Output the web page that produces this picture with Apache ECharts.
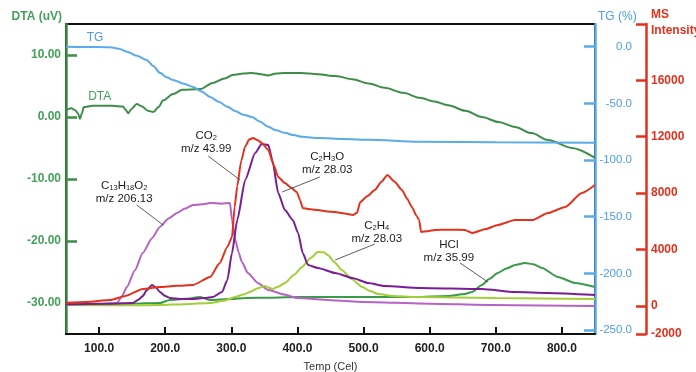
<!DOCTYPE html>
<html>
<head>
<meta charset="utf-8">
<title>DTA / TG / MS</title>
<script src="https://cdn.jsdelivr.net/npm/echarts@6.0.0/dist/echarts.min.js"></script>
<style>
    html, body { margin: 0; padding: 0; background: #fff; }
    #chart { width: 696px; height: 372px; }
</style>
</head>
<body>
<div id="chart"></div>
<script>
// tick values on each axis
const xTicks = [100, 200, 300, 400, 500, 600, 700, 800];
const dtaTicks = [-30, -20, -10, 0, 10];
const tgTicks = [0, -50, -100, -150, -200, -250];
const msTicks = [-2000, 0, 4000, 8000, 12000, 16000];
const msTickMarks = [-2000, 0, 4000, 8000, 12000, 16000, 20000];

// DTA (uV)
const dtaTemp = [50, 58, 64, 68, 71, 74, 77, 90, 120, 136, 140, 144, 149, 157, 165, 174, 182, 190, 197, 212, 226, 253, 272, 290, 303, 318, 331, 345, 355, 368, 381, 405, 431, 458, 483, 508, 532, 560, 585, 607, 628, 654, 679, 704, 729, 754, 779, 815, 850];
const dtaVal = [1.1, 1.4, 1.1, 0.6, -0.3, 0.6, 1.6, 1.8, 1.8, 1.7, 1.2, 0.6, 1.3, 2.1, 1.7, 1.0, 0.8, 1.6, 2.7, 3.7, 4.4, 4.5, 5.5, 6.2, 6.8, 7.0, 7.1, 6.9, 6.7, 7.0, 7.1, 7.1, 6.9, 6.6, 6.1, 5.4, 4.7, 3.9, 3.1, 2.5, 1.9, 1.0, 0.0, -0.8, -1.6, -2.6, -3.7, -5.0, -6.6];

// TG (%)
const tgTemp = [50, 80, 117, 130, 142, 157, 172, 182, 192, 202, 212, 227, 242, 255, 268, 281, 294, 306, 318, 331, 343, 356, 368, 381, 394, 407, 432, 457, 507, 585, 700, 850];
const tgVal = [0, -0.2, -0.5, -1.8, -4.4, -8, -11.7, -17, -23.1, -27, -29.3, -32.5, -35.5, -39.5, -44.3, -48.7, -53, -56.7, -60, -62, -66, -70.7, -73.8, -76, -78, -79.5, -80.6, -81.2, -82.1, -83.8, -84.4, -84.8];

// MS intensity, CO2 m/z 43.99 (red)
const co2Temp = [50, 80, 117, 140, 166, 192, 217, 242, 268, 282, 294, 301, 305, 309, 315, 321, 327, 333, 340, 346, 356, 364, 371, 381, 390, 399, 404, 408, 420, 431, 445, 457, 471, 484, 490, 495, 506, 517, 527, 536, 547, 558, 566, 573, 580, 584, 587, 597, 608, 630, 653, 664, 685, 703, 729, 755, 779, 805, 830, 850];
const co2Val = [220, 270, 413, 700, 1194, 1336, 1420, 1478, 2045, 3000, 4174, 4884, 7000, 8500, 10300, 11300, 11800, 11910, 11750, 11555, 11058, 10000, 9142, 8716, 8400, 8078, 7500, 6942, 6850, 6800, 6700, 6658, 6550, 6445, 6600, 7368, 7800, 8220, 8800, 9284, 8800, 8220, 7600, 7013, 6400, 6090, 5240, 5300, 5381, 5400, 5381, 5170, 5450, 5736, 6090, 6090, 6587, 7013, 8007, 8575];

// C2H3O m/z 28.03 (dark purple)
const c2h3oTemp = [50, 120, 151, 160, 166, 172, 180, 186, 192, 200, 207, 225, 242, 260, 272, 286, 294, 301, 309, 321, 336, 346, 356, 362, 371, 381, 393, 401, 408, 416, 431, 457, 483, 507, 532, 585, 679, 729, 779, 850];
const c2h3oVal = [100, 150, 200, 450, 697, 1100, 1478, 1300, 980, 700, 555, 484, 484, 550, 626, 980, 1832, 3749, 6090, 8929, 10846, 11484, 11413, 10349, 8007, 6800, 6090, 5170, 3749, 2897, 2684, 2329, 1974, 1620, 1407, 1265, 1194, 980, 910, 768];

// C13H18O2 m/z 206.13 (light purple)
const c13Temp = [50, 100, 127, 135, 142, 154, 166, 180, 192, 205, 218, 230, 242, 255, 268, 285, 298, 301, 306, 311, 316, 325, 340, 356, 380, 399, 450, 499, 600, 691, 850];
const c13Val = [100, 120, 200, 700, 1336, 2500, 3749, 4800, 5594, 6200, 6587, 6900, 7155, 7200, 7297, 7250, 7297, 6090, 4671, 3800, 3110, 2329, 1620, 1123, 800, 555, 400, 271, 150, 58, -13];

// C2H4 m/z 28.03 (lime)
const c2h4Temp = [50, 150, 192, 230, 268, 290, 306, 318, 328, 340, 351, 356, 362, 371, 381, 395, 407, 420, 431, 440, 446, 456, 467, 482, 498, 510, 522, 545, 578, 700, 850];
const c2h4Val = [58, 40, 58, 120, 200, 380, 626, 800, 980, 1250, 1407, 1300, 1194, 1350, 1620, 2200, 2755, 3400, 3820, 3800, 3607, 3100, 2542, 1900, 1336, 1050, 839, 700, 626, 550, 484];

// HCl m/z 35.99 (green)
const hclTemp = [50, 150, 192, 207, 230, 253, 268, 300, 321, 360, 404, 500, 578, 628, 653, 664, 679, 690, 703, 716, 729, 744, 757, 770, 794, 820, 850];
const hclVal = [129, 150, 200, 413, 500, 626, 413, 480, 555, 580, 626, 626, 626, 697, 839, 980, 1478, 1900, 2329, 2650, 2897, 3039, 2950, 2684, 2045, 1620, 1336];

// annotation texts, anchor (temp, MS) and leader lines (temp, MS)
const noteText = [
    '{t|CO}{s|2}\n{t|m/z 43.99}',
    '{t|C}{s|13}{t|H}{s|18}{t|O}{s|2}\n{t|m/z 206.13}',
    '{t|C}{s|2}{t|H}{s|3}{t|O}\n{t|m/z 28.03}',
    '{t|C}{s|2}{t|H}{s|4}\n{t|m/z 28.03}',
    '{t|HCl}\n{t|m/z 35.99}'
];
const noteAt = [[262, 11626], [138, 8078], [445, 10136], [520, 5239], [629, 3891]];
const leaders = [
    [[265, 10633], [313, 8930]],
    [[157, 7155], [197, 5736]],
    [[434, 9142], [377, 8078]],
    [[517, 4387], [457, 3252]],
    [[646, 3039], [688, 1690]]
];

const FONT = "'Liberation Sans', Arial, sans-serif";
const GREEN = '#3d8c48';
const GREEN_TXT = '#45a05b';
const BLUE = '#5aabea';
const BLUE_TXT = '#4c9de3';
const RED = '#e2321e';

const pairs = (t, v) => t.map((x, i) => [x, v[i]]);

const myChart = echarts.init(document.getElementById('chart'), null, { renderer: 'canvas' });

const lineSeries = (name, t, v, color, yIdx, smooth) => ({
    name: name,
    type: 'line',
    xAxisIndex: 0,
    yAxisIndex: yIdx,
    data: pairs(t, v),
    showSymbol: false,
    smooth: smooth,
    smoothMonotone: 'x',
    lineStyle: { color: color, width: 2 },
    itemStyle: { color: color },
    silent: true
});

const plainLabel = (text, coord, color) => ({
    symbol: 'rect',
    symbolSize: 1,
    silent: true,
    itemStyle: { color: 'rgba(0,0,0,0)' },
    label: { show: true, position: 'inside', formatter: text, color: color, fontSize: 12, fontFamily: FONT },
    data: [{ coord: coord }]
});

const redSeries = lineSeries('CO2', co2Temp, co2Val, RED, 2, 0.2);
redSeries.markPoint = {
    symbol: 'rect',
    symbolSize: 1,
    silent: true,
    itemStyle: { color: 'rgba(0,0,0,0)' },
    label: {
        show: true,
        position: 'inside',
        align: 'center',
        rich: {
            t: { fontSize: 11.5, color: '#1c1c1c', fontFamily: FONT, lineHeight: 13 },
            s: { fontSize: 7.5, color: '#1c1c1c', fontFamily: FONT, lineHeight: 6, verticalAlign: 'bottom' }
        }
    },
    data: noteText.map((txt, i) => ({ coord: noteAt[i], label: { formatter: txt } }))
};
redSeries.markLine = {
    silent: true,
    symbol: ['none', 'none'],
    label: { show: false },
    lineStyle: { color: '#333', width: 0.8, type: 'solid' },
    data: leaders.map(l => [{ coord: l[0] }, { coord: l[1] }])
};

const dtaSeries = lineSeries('DTA', dtaTemp, dtaVal, GREEN, 0, 0.3);
dtaSeries.markPoint = plainLabel('DTA', [101, 3.2], GREEN_TXT);
const tgSeries = lineSeries('TG', tgTemp, tgVal, BLUE, 1, 0.3);
tgSeries.markPoint = plainLabel('TG', [94, 7.6], BLUE_TXT);

let option = {
    animation: false,
    backgroundColor: '#fff',
    textStyle: { fontFamily: FONT },
    grid: {
        left: 66, right: 101, top: 24, bottom: 38,
        containLabel: false,
        outerBoundsMode: 'none',
        show: true,
        borderColor: '#111',
        borderWidth: 2,
        backgroundColor: 'transparent'
    },
    xAxis: {
        type: 'value',
        position: 'bottom',
        min: 50,
        max: 850,
        axisLine: { onZero: false, lineStyle: { color: '#111', width: 2 } },
        axisTick: { show: true, inside: true, length: 7, customValues: xTicks, lineStyle: { color: '#111', width: 2 } },
        axisLabel: { customValues: xTicks, formatter: v => v.toFixed(1), color: '#222', fontSize: 12, fontWeight: 'bold', margin: 9 },
        splitLine: { show: false },
        name: 'Temp (Cel)',
        nameLocation: 'middle',
        nameGap: 27,
        nameTextStyle: { color: '#333', fontSize: 11 }
    },
    yAxis: [{
        // DTA
        type: 'value',
        position: 'left',
        min: -35,
        max: 15,
        axisLine: { show: true, onZero: false, lineStyle: { color: GREEN, width: 2.5 } },
        axisTick: { show: true, inside: true, length: 11, customValues: dtaTicks, lineStyle: { color: GREEN, width: 2.5 } },
        axisLabel: { customValues: dtaTicks, formatter: v => v.toFixed(2), color: GREEN_TXT, fontSize: 12, fontWeight: 'bold', margin: 5 },
        splitLine: { show: false },
        name: 'DTA (uV)',
        nameLocation: 'end',
        nameGap: 7,
        nameTextStyle: { color: GREEN_TXT, fontSize: 12, fontWeight: 'bold', align: 'right', verticalAlign: 'middle', padding: [0, 4, 0, 0] }
    }, {
        // TG
        type: 'value',
        position: 'right',
        offset: 0,
        min: -253.5,
        max: 20,
        axisLine: { show: true, onZero: false, lineStyle: { color: BLUE, width: 2.5 } },
        axisTick: { show: true, inside: true, length: 11, customValues: tgTicks, lineStyle: { color: BLUE, width: 2.5 } },
        axisLabel: { customValues: tgTicks, formatter: v => v.toFixed(1), color: BLUE_TXT, fontSize: 11.5, align: 'right', margin: 37 },
        splitLine: { show: false },
        name: 'TG (%)',
        nameLocation: 'end',
        nameGap: 7,
        nameTextStyle: { color: BLUE_TXT, fontSize: 12, align: 'left', verticalAlign: 'middle', padding: [0, 0, 0, 3] }
    }, {
        // MS
        type: 'value',
        position: 'right',
        offset: 51,
        min: -2000,
        max: 20000,
        axisLine: { show: true, onZero: false, lineStyle: { color: RED, width: 2.5 } },
        axisTick: { show: true, inside: true, length: 10, customValues: msTickMarks, lineStyle: { color: RED, width: 2.5 } },
        axisLabel: { customValues: msTicks, formatter: v => String(v), color: RED, fontSize: 12, fontWeight: 'bold', margin: 5 },
        splitLine: { show: false },
        name: 'MS\nIntensity',
        nameLocation: 'end',
        nameGap: 17,
        nameTextStyle: { color: RED, fontSize: 12, fontWeight: 'bold', align: 'left', verticalAlign: 'top', lineHeight: 16, padding: [0, 0, 0, 5] }
    }],
    series: [
        dtaSeries,
        tgSeries,
        lineSeries('HCl', hclTemp, hclVal, '#3a9a48', 2, 0.2),
        lineSeries('C13H18O2', c13Temp, c13Val, '#b563c4', 2, 0.2),
        lineSeries('C2H4', c2h4Temp, c2h4Val, '#a4cd3a', 2, 0.2),
        lineSeries('C2H3O', c2h3oTemp, c2h3oVal, '#7a1d95', 2, 0.2),
        redSeries
    ]
};

myChart.setOption(option);
window.addEventListener('resize', () => {
    myChart.resize();
});
</script>
</body>
</html>
